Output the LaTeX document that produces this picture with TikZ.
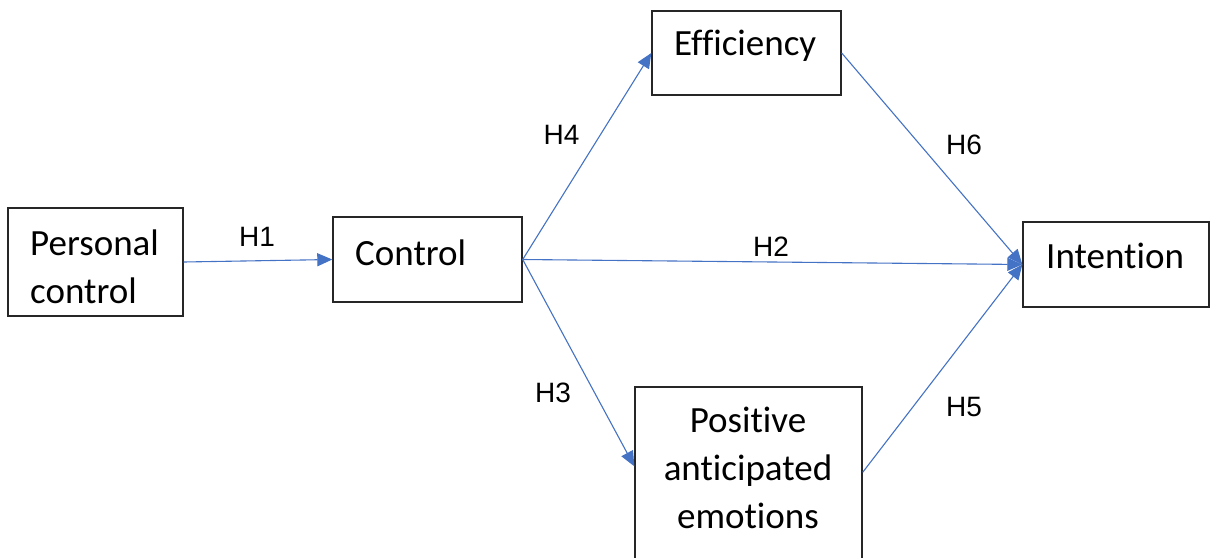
\documentclass[tikz,border=0pt]{standalone}
\usepackage{fontspec}
\setmainfont{Carlito}[RawFeature=-liga]
\newfontfamily\lblfont{Liberation Sans}
\usetikzlibrary{arrows.meta,calc}
\definecolor{arrowblue}{HTML}{4472C4}
\begin{document}
\begin{tikzpicture}[x=1pt,y=-1pt,
 box/.style={draw=black!85, line width=1.4pt, inner sep=0pt},
 boxtext/.style={font=\fontsize{37}{48}\selectfont, inner sep=0pt},
 hyp/.style={font=\lblfont\fontsize{28}{34}\selectfont, inner sep=0pt},
 link/.style={draw=arrowblue, line width=1.1pt, -{Triangle[length=15pt,width=13pt]}}]
\useasboundingbox (0,0) rectangle (1210,557);
\node[box, minimum width=175pt, minimum height=108pt] (pc) at (95.5,262) {};
\node[box, minimum width=189pt, minimum height=85pt] (ctl) at (427.5,259.5) {};
\node[box, minimum width=189pt, minimum height=84pt] (eff) at (746.5,53) {};
\node[box, minimum width=186pt, minimum height=85pt] (int) at (1116,264.5) {};
\node[box, minimum width=227pt, minimum height=200pt] (pae) at (748.5,487) {};
\node[boxtext, anchor=base west, align=left] (pct) at (30,303) {Personal\\control};
\node[boxtext, anchor=base west] (ctlt) at (355,265) {Control};
\node[boxtext, anchor=base west] (efft) at (674,55) {Efficiency};
\node[boxtext, anchor=base west] (intt) at (1046,268) {Intention};
\node[boxtext, anchor=base, align=center] (paet) at (748,528) {Positive\\anticipated\\emotions};
\draw[link] (pc.east) -- (ctl.west);
\draw[link] (ctl.east) -- (eff.west);
\draw[link] (ctl.east) -- (int.west);
\draw[link] (ctl.east) -- ([yshift=-80pt]pae.north west);
\draw[link] (eff.east) -- (int.west);
\draw[link] ([yshift=-86pt]pae.north east) -- (int.west);
\node[hyp] (h1) at (257,237) {H1};
\node[hyp] (h4) at (561.5,135) {H4};
\node[hyp] (h2) at (771,247) {H2};
\node[hyp] (h6) at (964,145) {H6};
\node[hyp] (h3) at (553,393) {H3};
\node[hyp] (h5) at (964,407) {H5};
\end{tikzpicture}
\end{document}
